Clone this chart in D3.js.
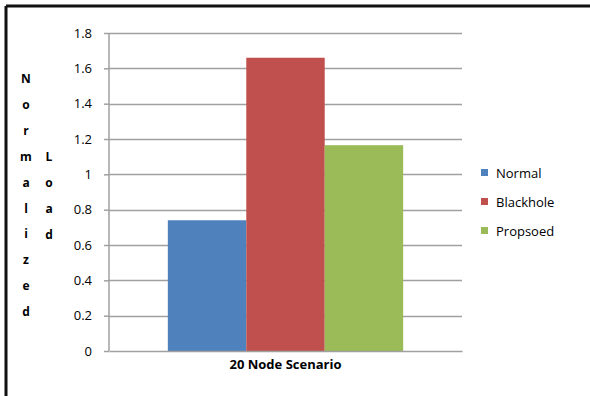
<!DOCTYPE html>
<html>
<head>
<meta charset="utf-8">
<script src="https://cdn.jsdelivr.net/npm/d3@7"></script>
<style>
  body { margin: 0; background: #fff; }
  text { font-family: "Open Sans", "DejaVu Sans", sans-serif; }
</style>
</head>
<body>
<div id="visHolder"></div>
<script>
var categories = ["20 Node Scenario"];
var seriesNames = ["Normal", "Blackhole", "Propsoed"];
var seriesValues = [0.74, 1.66, 1.165];
var colors = ["#4f81bd", "#c0504d", "#9bbb59"];
var tickValues = [0, 0.2, 0.4, 0.6, 0.8, 1, 1.2, 1.4, 1.6, 1.8];

var width = 590;
var height = 396;
var plot = { left: 109, right: 462, top: 33, bottom: 351 };

var svg = d3.select("#visHolder")
  .append("svg")
  .attr("width", width)
  .attr("height", height);

svg.append("rect").attr("width", width).attr("height", height).attr("fill", "#fff");

// outer frame (only top and left visible in the reference)
svg.append("line").attr("x1", 6).attr("x2", width).attr("y1", 6).attr("y2", 6)
  .attr("stroke", "#111").attr("stroke-width", 3);
svg.append("line").attr("x1", 6).attr("x2", 6).attr("y1", 6).attr("y2", height)
  .attr("stroke", "#111").attr("stroke-width", 3);

var y = d3.scaleLinear().domain([0, 1.8]).range([plot.bottom, plot.top]);
var x0 = d3.scaleBand().domain(categories).range([plot.left, plot.right]).paddingInner(0).paddingOuter(0.25);
var x1 = d3.scaleBand().domain(seriesNames).range([0, x0.bandwidth()]);

// gridlines
svg.append("g")
  .selectAll("line")
  .data(tickValues.filter(d => d > 0))
  .enter()
  .append("line")
  .attr("x1", plot.left)
  .attr("x2", plot.right)
  .attr("y1", d => Math.round(y(d)) + 0.5)
  .attr("y2", d => Math.round(y(d)) + 0.5)
  .attr("stroke", "#a0a0a0")
  .attr("stroke-width", 1.5);

// bars
svg.append("g")
  .selectAll("rect")
  .data(seriesValues)
  .enter()
  .append("rect")
  .attr("x", (d, i) => x0(categories[0]) + x1(seriesNames[i]))
  .attr("y", d => y(d))
  .attr("width", x1.bandwidth())
  .attr("height", d => plot.bottom - y(d))
  .attr("fill", (d, i) => colors[i]);

// y axis
var yAxis = svg.append("g")
  .attr("transform", "translate(" + plot.left + ",0)")
  .call(d3.axisLeft(y).tickValues(tickValues).tickSize(5).tickPadding(12).tickFormat(d3.format("")));
yAxis.selectAll("line").attr("stroke", "#a0a0a0").attr("stroke-width", 1.5);
yAxis.select(".domain").attr("stroke", "#a0a0a0").attr("stroke-width", 1.5).attr("d", "M0," + plot.top + "V" + plot.bottom);
yAxis.selectAll("text").attr("font-size", 13).attr("fill", "#000")
  .attr("font-family", "'Open Sans', sans-serif");

// x axis
var xAxis = svg.append("g")
  .attr("transform", "translate(0," + plot.bottom + ")")
  .call(d3.axisBottom(x0).tickSize(0).tickPadding(9));
xAxis.select(".domain").attr("stroke", "#a0a0a0").attr("stroke-width", 1.5);
xAxis.selectAll("text").attr("font-size", 13).attr("font-weight", "bold").attr("fill", "#000")
  .attr("font-family", "'Open Sans', sans-serif");

// y axis title, stacked letters in two columns
var title1 = "Normalized".split("");
var title2 = "Load".split("");
svg.append("g").selectAll("text")
  .data(title1).enter().append("text")
  .attr("x", 26).attr("y", (d, i) => 83 + i * 25.9)
  .attr("text-anchor", "middle").attr("font-size", 12).attr("font-weight", "bold").attr("fill", "#000")
  .text(d => d);
svg.append("g").selectAll("text")
  .data(title2).enter().append("text")
  .attr("x", 49).attr("y", (d, i) => 161 + i * 25.9)
  .attr("text-anchor", "middle").attr("font-size", 12).attr("font-weight", "bold").attr("fill", "#000")
  .text(d => d);

// legend
var legend = svg.append("g").selectAll("g")
  .data(seriesNames).enter().append("g")
  .attr("transform", (d, i) => "translate(481," + (173 + i * 29) + ")");
legend.append("rect").attr("x", 0).attr("y", -4).attr("width", 7).attr("height", 7)
  .attr("fill", (d, i) => colors[i]);
legend.append("text").attr("x", 15).attr("y", 5).attr("font-size", 13).attr("fill", "#000")
  .text(d => d);
</script>
</body>
</html>
